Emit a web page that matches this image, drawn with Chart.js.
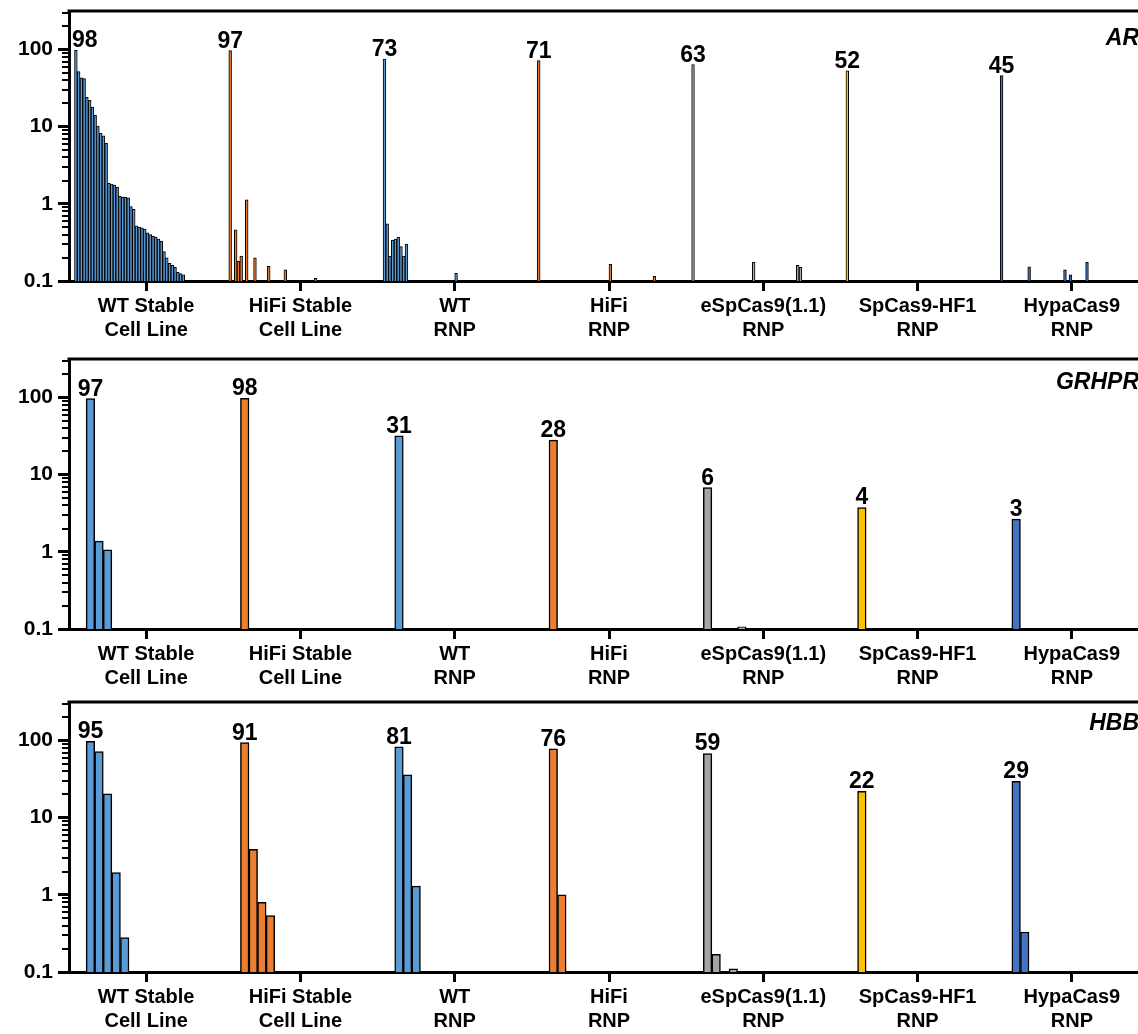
<!DOCTYPE html>
<html>
<head>
<meta charset="utf-8">
<script src="https://cdn.jsdelivr.net/npm/chart.js@4.4.1/dist/chart.umd.min.js"></script>
<style>
  html, body { margin: 0; padding: 0; background: #fff; overflow: hidden; }
  .panel { position: absolute; left: 0; width: 1160px; height: 346px; }
</style>
</head>
<body>
<div class="panel" style="top:0"><canvas id="chart-ar" width="1160" height="346"></canvas></div>
<div class="panel" style="top:348px"><canvas id="chart-grhpr" width="1160" height="346"></canvas></div>
<div class="panel" style="top:691px"><canvas id="chart-hbb" width="1160" height="346"></canvas></div>
<script>
// groups along the x axis
const groupNames = [
  ['WT Stable', 'Cell Line'], ['HiFi Stable', 'Cell Line'], ['WT', 'RNP'], ['HiFi', 'RNP'],
  ['eSpCas9(1.1)', 'RNP'], ['SpCas9-HF1', 'RNP'], ['HypaCas9', 'RNP']
];
const groupColors = ['#5B9BD5', '#ED7D31', '#5B9BD5', '#ED7D31', '#A5A5A5', '#FFC000', '#4472C4'];
const yTicks = [0.1, 1, 10, 100];

// empty allele slots (no reads)
const gap = n => Array(n).fill(null);

// AR - % reads per ranked allele
const arWtStable = [98, 52, 43, 42, 24, 22, 18, 14, 10.2, 8.2, 7.6, 6.1, 1.85, 1.8, 1.75, 1.65, 1.25, 1.22, 1.22, 1.2,
  0.92, 0.85, 0.52, 0.5, 0.49, 0.47, 0.42, 0.4, 0.38, 0.37, 0.35, 0.33, 0.24, 0.2, 0.17, 0.16, 0.15, 0.13, 0.125, 0.12];
const arHifiStable = [97, null, 0.46, 0.18, 0.21, null, 1.13, null, null, 0.2, ...gap(4), 0.155, ...gap(5), 0.14, ...gap(10), 0.108];
const arWtRnp = [75, 0.55, 0.21, 0.34, 0.35, 0.37, 0.28, 0.21, 0.3, ...gap(17), 0.126];
const arHifiRnp = [72, ...gap(25), 0.164, ...gap(15), 0.115];
const arEsp = [64, ...gap(21), 0.175, ...gap(15), 0.16, 0.15];
const arHf1 = [53];
const arHypa = [46, ...gap(9), 0.153, ...gap(12), 0.14, null, 0.12, ...gap(5), 0.175];
const arLabels = [98, 97, 73, 71, 63, 52, 45];

// GRHPR
const grWtStable = [97, 1.38, 1.06];
const grHifiStable = [98];
const grWtRnp = [32];
const grHifiRnp = [28];
const grEsp = [6.8, null, null, null, 0.107];
const grHf1 = [3.76];
const grHypa = [2.65];
const grLabels = [97, 98, 31, 28, 6, 4, 3];

// HBB
const hbWtStable = [98, 72, 20.4, 1.94, 0.28];
const hbHifiStable = [94, 3.9, 0.8, 0.54];
const hbWtRnp = [83, 36, 1.3];
const hbHifiRnp = [78, 1.0];
const hbEsp = [68, 0.17, null, 0.11];
const hbHf1 = [22];
const hbHypa = [29.5, 0.33];
const hbLabels = [95, 91, 81, 76, 59, 22, 29];

const FONT = '"Liberation Sans", Arial, sans-serif';
const FIRST_SLOT = 2;

// top frame, minor log ticks, value labels and gene name
const panelDecor = {
  id: 'panelDecor',
  afterDatasetsDraw(chart, args, opts) {
    const { ctx, chartArea: a } = chart;
    const y = chart.scales.y;
    ctx.save();
    ctx.strokeStyle = '#000';
    ctx.lineWidth = 3;
    ctx.beginPath();
    ctx.moveTo(a.left - 1.5, a.top);
    ctx.lineTo(a.right, a.top);
    ctx.stroke();

    ctx.lineWidth = 2;
    yTicks.forEach(d => {
      for (let k = 2; k <= 9; k++) {
        const v = k * d;
        if (v > y.max) break;
        const py = Math.round(y.getPixelForValue(v));
        ctx.beginPath();
        ctx.moveTo(a.left - 7, py);
        ctx.lineTo(a.left, py);
        ctx.stroke();
      }
    });

    const meta = chart.getDatasetMeta(0);
    ctx.fillStyle = '#000';
    ctx.font = 'bold 23px ' + FONT;
    ctx.textAlign = 'center';
    ctx.textBaseline = 'alphabetic';
    opts.labels.forEach((t, g) => {
      const bar = meta.data[g * opts.slots + FIRST_SLOT];
      const s = String(t);
      const w = ctx.measureText(s).width;
      const x = Math.max(bar.x, a.left + 3 + w / 2);
      ctx.fillText(s, x, bar.y - 3);
    });

    ctx.font = 'italic bold 23px ' + FONT;
    ctx.textAlign = 'right';
    ctx.fillText(opts.gene, a.right - 10, a.top + opts.geneDy);
    ctx.restore();
  }
};

const noPad = s => { s.paddingTop = 0; s.paddingBottom = 0; s.paddingLeft = 0; s.paddingRight = 0; };

function buildPanel(canvasId, gene, geneDy, groups, labels, slots, barBorder) {
  const slotLabels = [], values = [], colors = [];
  groups.forEach((vals, g) => {
    for (let s = 0; s < slots; s++) {
      slotLabels.push(g + '-' + s);
      const v = vals[s - FIRST_SLOT];
      values.push(v === undefined ? null : v);
      colors.push(groupColors[g]);
    }
  });

  new Chart(document.getElementById(canvasId), {
    type: 'bar',
    data: {
      labels: slotLabels,
      datasets: [{
        data: values,
        backgroundColor: colors,
        borderColor: '#000',
        borderWidth: barBorder,
        borderSkipped: 'bottom',
        barPercentage: 1,
        categoryPercentage: 1,
        xAxisID: 'x',
        yAxisID: 'y'
      }]
    },
    options: {
      responsive: false,
      animation: false,
      layout: { padding: { top: 11, right: 11, left: 0, bottom: 0 } },
      plugins: {
        legend: { display: false },
        tooltip: { enabled: false },
        panelDecor: { labels: labels, slots: slots, gene: gene, geneDy: geneDy }
      },
      scales: {
        x: { type: 'category', display: false, offset: true },
        xg: {
          type: 'category',
          position: 'bottom',
          labels: groupNames,
          offset: true,
          afterFit: s => { s.height = 65; noPad(s); },
          grid: { offset: false, drawOnChartArea: false, tickLength: 10, tickWidth: 3, tickColor: '#000' },
          border: { display: true, width: 3, color: '#000' },
          ticks: {
            autoSkip: false, maxRotation: 0, padding: 3, color: '#000',
            font: { family: FONT, size: 20, weight: 'bold', lineHeight: 1.2 }
          }
        },
        y: {
          type: 'logarithmic',
          min: 0.1,
          max: 316,
          afterFit: s => { s.width = 69; noPad(s); },
          afterBuildTicks: s => { s.ticks = yTicks.map(v => ({ value: v })); },
          grid: { drawOnChartArea: false, tickLength: 11, tickWidth: 3, tickColor: '#000' },
          border: { display: true, width: 3, color: '#000' },
          ticks: {
            padding: 5, color: '#000',
            font: { family: FONT, size: 21, weight: 'bold' },
            callback: v => String(v)
          }
        }
      }
    },
    plugins: [panelDecor]
  });
}

buildPanel('chart-ar', 'AR', 34, [arWtStable, arHifiStable, arWtRnp, arHifiRnp, arEsp, arHf1, arHypa], arLabels, 56, 1);
buildPanel('chart-grhpr', 'GRHPR', 30, [grWtStable, grHifiStable, grWtRnp, grHifiRnp, grEsp, grHf1, grHypa], grLabels, 18, 1.5);
buildPanel('chart-hbb', 'HBB', 28, [hbWtStable, hbHifiStable, hbWtRnp, hbHifiRnp, hbEsp, hbHf1, hbHypa], hbLabels, 18, 1.5);
</script>
</body>
</html>
